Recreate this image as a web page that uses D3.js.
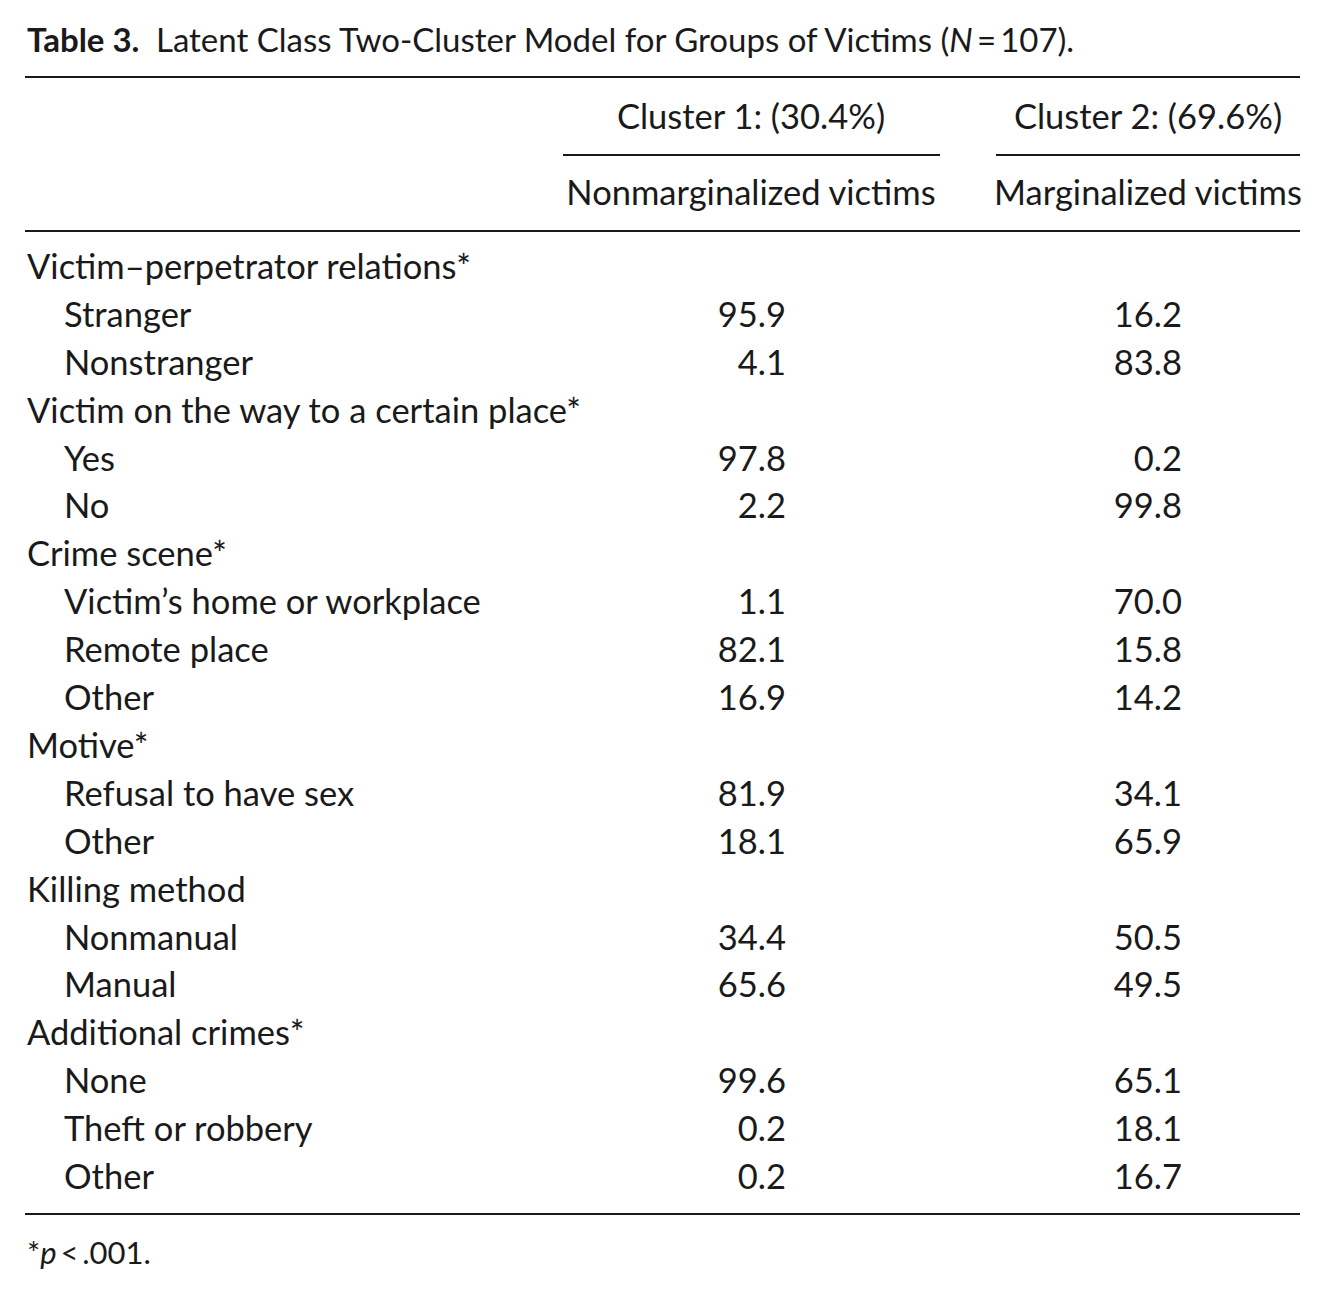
<!DOCTYPE html>
<html>
<head>
<meta charset="utf-8">
<script src="https://cdn.jsdelivr.net/npm/d3@7"></script>
<style>
  body { margin: 0; background: #fff; }
  text { font-family: Lato, "Open Sans", sans-serif; fill: #1a1a1a; }
</style>
</head>
<body>
<svg id="chart" width="1326" height="1299"></svg>
<script>
const rows = [
  { label: "Victim\u2013perpetrator relations*", group: true },
  { label: "Stranger", c1: "95.9", c2: "16.2" },
  { label: "Nonstranger", c1: "4.1", c2: "83.8" },
  { label: "Victim on the way to a certain place*", group: true },
  { label: "Yes", c1: "97.8", c2: "0.2" },
  { label: "No", c1: "2.2", c2: "99.8" },
  { label: "Crime scene*", group: true },
  { label: "Victim\u2019s home or workplace", c1: "1.1", c2: "70.0" },
  { label: "Remote place", c1: "82.1", c2: "15.8" },
  { label: "Other", c1: "16.9", c2: "14.2" },
  { label: "Motive*", group: true },
  { label: "Refusal to have sex", c1: "81.9", c2: "34.1" },
  { label: "Other", c1: "18.1", c2: "65.9" },
  { label: "Killing method", group: true },
  { label: "Nonmanual", c1: "34.4", c2: "50.5" },
  { label: "Manual", c1: "65.6", c2: "49.5" },
  { label: "Additional crimes*", group: true },
  { label: "None", c1: "99.6", c2: "65.1" },
  { label: "Theft or robbery", c1: "0.2", c2: "18.1" },
  { label: "Other", c1: "0.2", c2: "16.7" }
];

const svg = d3.select("#chart");
const fs = 34.5;

const title = svg.append("text").attr("x", 27).attr("y", 52).style("font-size", "33px");
title.append("tspan").attr("font-weight", "bold").text("Table 3.");
title.append("tspan").text("\u2002Latent Class Two-Cluster Model for Groups of Victims (");
title.append("tspan").attr("font-style", "italic").text("N");
title.append("tspan").text("\u2009=\u2009107).");

const rule = (x1, x2, y, w) => svg.append("line")
  .attr("x1", x1).attr("x2", x2).attr("y1", y).attr("y2", y)
  .attr("stroke", "#1a1a1a").attr("stroke-width", w);

rule(25, 1300, 77, 2);
rule(563, 940, 155, 2);
rule(996, 1300, 155, 2);
rule(25, 1300, 231, 2);
rule(25, 1300, 1214, 2);

const heads = [
  { x: 751, a: "Cluster 1: (30.4%)", b: "Nonmarginalized victims" },
  { x: 1148, a: "Cluster 2: (69.6%)", b: "Marginalized victims" }
];
heads.forEach(h => {
  svg.append("text").attr("x", h.x).attr("y", 129).attr("text-anchor", "middle")
    .style("font-size", fs + "px").text(h.a);
  svg.append("text").attr("x", h.x).attr("y", 205).attr("text-anchor", "middle")
    .style("font-size", fs + "px").text(h.b);
});

const y = d3.scaleLinear().domain([0, rows.length - 1]).range([279, 1189]);

const g = svg.selectAll("g.row").data(rows).join("g").attr("class", "row")
  .attr("transform", (d, i) => `translate(0,${y(i)})`);

g.append("text").attr("x", d => d.group ? 27 : 64)
  .style("font-size", fs + "px").text(d => d.label);
g.filter(d => !d.group).append("text").attr("x", 786).attr("text-anchor", "end")
  .style("font-size", fs + "px").text(d => d.c1);
g.filter(d => !d.group).append("text").attr("x", 1182).attr("text-anchor", "end")
  .style("font-size", fs + "px").text(d => d.c2);

const foot = svg.append("text").attr("x", 27).attr("y", 1264).style("font-size", "31px");
foot.append("tspan").text("*");
foot.append("tspan").attr("font-style", "italic").text("p");
foot.append("tspan").text("\u2009<\u2009.001.");
</script>
</body>
</html>
